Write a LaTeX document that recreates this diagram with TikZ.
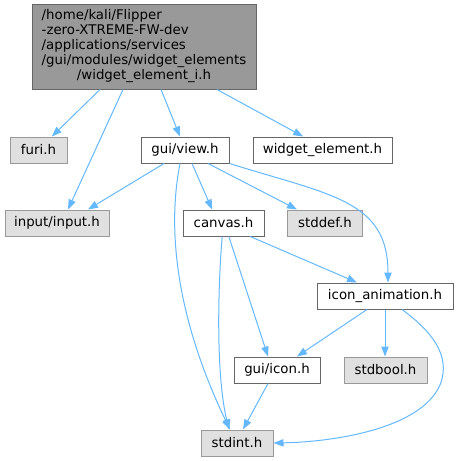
\documentclass[tikz,border=0pt]{standalone}
\usepackage{fontspec}
\setmainfont{DejaVu Sans}
\usepackage{xcolor}
\usepackage{tikz}
\usetikzlibrary{arrows.meta}
\definecolor{EdgeBlue}{HTML}{63B8FF}
\definecolor{RootFill}{HTML}{999999}
\definecolor{RootBorder}{HTML}{666666}
\definecolor{SysFill}{HTML}{E0E0E0}
\definecolor{SysBorder}{HTML}{999999}
\definecolor{FileBorder}{HTML}{666666}

\tikzset{
  filebox/.style={draw=FileBorder, fill=white, line width=0.75pt, inner sep=0pt,
    minimum height=19.5pt, font=\fontsize{10}{12}\selectfont},
  sysbox/.style={filebox, draw=SysBorder, fill=SysFill},
  dep/.style={draw=EdgeBlue, line width=0.75pt, -{Triangle[length=7.5pt,width=5.5pt]}}
}

\begin{document}
\begin{tikzpicture}[x=0.75pt,y=-0.75pt]
  \useasboundingbox (0,0) rectangle (458,461);

  % Root header
  \node[draw=RootBorder, fill=RootFill, line width=0.75pt, inner sep=0pt,
        minimum width=168pt, minimum height=63.75pt] (root) at (144,46.5)
    {\fontsize{10}{11.25}\selectfont\begin{tabular}{@{}l@{}}
      /home/kali/Flipper\\
      -zero-XTREME-FW-dev\\
      /applications/services\\
      /gui/modules/widget\_elements\\
      \multicolumn{1}{@{}c@{}}{/widget\_element\_i.h}
    \end{tabular}};

  % Included files
  \node[sysbox, minimum width=42.75pt] (furi) at (38.5,150) {furi.h};
  \node[filebox, minimum width=66pt] (view) at (185,150) {gui/view.h};
  \node[filebox, minimum width=104.25pt] (widget) at (322.5,150) {widget\_element.h};
  \node[sysbox, minimum width=78pt] (input) at (57,223) {input/input.h};
  \node[filebox, minimum width=60.75pt] (canvas) at (223.5,223) {canvas.h};
  \node[sysbox, minimum width=56.25pt] (stddef) at (325,223) {stddef.h};
  \node[filebox, minimum width=102pt] (iconanim) at (385,296) {icon\_animation.h};
  \node[filebox, minimum width=64.5pt] (icon) at (277,370) {gui/icon.h};
  \node[sysbox, minimum width=62.25pt] (stdbool) at (385.5,370) {stdbool.h};
  \node[sysbox, minimum width=54pt] (stdint) at (237,443) {stdint.h};

  % Edges from root
  \draw[dep] ([xshift=-33pt]root.south) -- ([xshift=10pt]furi.north);
  \draw[dep] ([xshift=-15.75pt]root.south) -- ([xshift=8.25pt]input.north);
  \draw[dep] ([xshift=12.75pt]root.south) -- ([xshift=-3.75pt]view.north);
  \draw[dep] ([xshift=54.75pt]root.south) -- ([xshift=-14.5pt]widget.north);

  % Edges from gui/view.h
  \draw[dep] ([xshift=-15.75pt]view.south) -- ([xshift=23.25pt]input.north);
  \draw[dep] ([xshift=5.25pt]view.south) -- ([xshift=-8.5pt]canvas.north);
  \draw[dep] ([xshift=17.25pt]view.south) -- ([xshift=-21pt]stddef.north);
  \draw[dep] (view.south east) .. controls (330,195) and (388,200) .. ([xshift=2.25pt]iconanim.north);
  \draw[dep] ([xshift=-3.75pt]view.south) .. controls (165,240) and (182,330) .. ([xshift=-5.25pt]stdint.north);

  % Edges from canvas.h
  \draw[dep] ([xshift=-1pt]canvas.south) .. controls (217,300) and (217,380) .. ([xshift=-6pt]stdint.north);
  \draw[dep] ([xshift=4pt]canvas.south) -- ([xshift=-6.75pt]icon.north);
  \draw[dep] ([xshift=20pt]canvas.south) -- ([xshift=-21pt]iconanim.north);

  % Edges from icon_animation.h
  \draw[dep] ([xshift=-13.5pt]iconanim.south) -- ([xshift=15pt]icon.north);
  \draw[dep] (iconanim.south) -- (stdbool.north -| iconanim.south);
  \draw[dep] ([xshift=12.75pt]iconanim.south) .. controls (430,330) and (452,355) .. (440,385)
    .. controls (420,430) and (330,442) .. (stdint.east);

  % Edge from gui/icon.h
  \draw[dep] ([xshift=-6.75pt]icon.south) -- ([xshift=4.5pt]stdint.north);
\end{tikzpicture}
\end{document}
